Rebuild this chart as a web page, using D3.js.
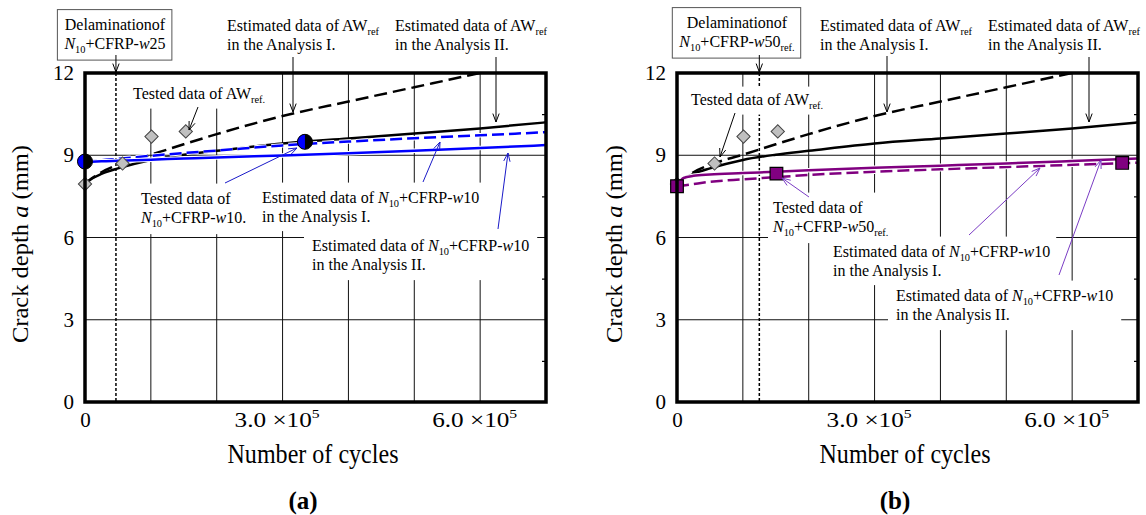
<!DOCTYPE html>
<html>
<head>
<meta charset="utf-8">
<script src="https://cdn.jsdelivr.net/npm/d3@7"></script>
<style>
  body { margin: 0; background: #fff; }
  svg { font-family: "Liberation Serif", "Times New Roman", serif; }
  text { white-space: pre; }
</style>
</head>
<body>
<div id="chart"></div>
<script>
// ---- data ----
const cycles = [0, 10000, 25000, 50000, 100000, 150000, 200000, 300000, 400000, 500000, 600000, 700000];

// AWref estimates (same curves in both panels)
const awRefAnalysisI  = [7.95, 8.15, 8.38, 8.65, 9.02, 9.40, 9.77, 10.43, 10.96, 11.48, 12.0, null];
const awRefAnalysisII = [7.95, 8.14, 8.32, 8.52, 8.83, 9.02, 9.16, 9.43, 9.61, 9.79, 9.98, 10.2];

// (a) N10+CFRP-w10 estimates
const w10AnalysisI  = [8.75, 8.78, 8.82, 8.87, 8.98, 9.08, 9.17, 9.36, 9.50, 9.62, 9.73, 9.84];
const w10AnalysisII = [8.75, 8.76, 8.78, 8.80, 8.84, 8.88, 8.92, 8.99, 9.07, 9.16, 9.26, 9.37];

// (b) N10+CFRP-w50ref estimates
const w50AnalysisI  = [7.87, 7.90, 7.95, 8.03, 8.12, 8.20, 8.28, 8.40, 8.49, 8.57, 8.65, 8.73];
const w50AnalysisII = [7.87, 8.17, 8.25, 8.30, 8.35, 8.40, 8.45, 8.54, 8.62, 8.70, 8.79, 8.88];

// tested data
const awRefTestCycles = [0, 57000, 101000, 153000];
const awRefTestDepth  = [7.95, 8.70, 9.68, 9.87];
const w10TestCycles = [0, 334000];
const w10TestDepth  = [8.77, 9.49];
const w50TestCycles = [0, 151000, 676000];
const w50TestDepth  = [7.87, 8.33, 8.72];

// delamination cycles
const delamA = 47000;
const delamB = 125000;

// ticks
const yTicks = [0, 3, 6, 9, 12];
const yMinor = [1.5, 4.5, 7.5, 10.5];
const xTicks = [0, 300000, 600000];
const xGrid = [100000, 200000, 300000, 400000, 500000, 600000];
const xTickLabels = { 0: ["0"], 300000: ["3.0", "5"], 600000: ["6.0", "5"] };

// ---- setup ----
const svg = d3.select("#chart").append("svg")
  .attr("width", 1146)
  .attr("height", 515);

const BLUE = "#0000ff", BLUE_ARROW = "#1a1ac8";
const PURPLE = "#800080", PURPLE_ARROW = "#7a3cc4";
const FS = 16;

// text line with italic / subscript parts
function richLine(g, x, y, parts, anchor) {
  const t = g.append("text")
    .attr("x", x)
    .attr("y", y + FS * 0.35)
    .attr("font-size", FS)
    .attr("text-anchor", anchor || "start");
  let down = false;
  parts.forEach(([s, st]) => {
    const sp = t.append("tspan").text(s);
    if (st.includes("i")) sp.attr("font-style", "italic");
    if (st.includes("s")) {
      sp.attr("font-size", FS * 0.65);
      if (!down) { sp.attr("dy", 4); down = true; }
    } else if (down) {
      sp.attr("dy", -4);
      down = false;
    }
  });
  return t;
}

function arrow(g, [x1, y1, x2, y2], color, w) {
  g.append("line")
    .attr("x1", x1).attr("y1", y1).attr("x2", x2).attr("y2", y2)
    .attr("stroke", color).attr("stroke-width", w);
  const a = Math.atan2(y2 - y1, x2 - x1), L = 9, s = 0.36;
  g.append("path")
    .attr("d", `M${x2 - L * Math.cos(a - s)},${y2 - L * Math.sin(a - s)}L${x2},${y2}L${x2 - L * Math.cos(a + s)},${y2 - L * Math.sin(a + s)}`)
    .attr("fill", "none").attr("stroke", color).attr("stroke-width", w);
}

function annotate(g, a) {
  const grp = g.append("g");
  const bg = grp.append("rect").attr("fill", "#fff");
  const texts = a.lines.map((parts, i) => richLine(grp, a.x, a.y + i * 19.5, parts, a.anchor));
  const boxes = texts.map(t => t.node().getBBox());
  const x0 = d3.min(boxes, b => b.x), x1 = d3.max(boxes, b => b.x + b.width);
  const y0 = d3.min(boxes, b => b.y), y1 = d3.max(boxes, b => b.y + b.height);
  const p = a.pad || [6, 4, 4];
  bg.attr("x", x0 - p[0]).attr("y", y0 - p[1])
    .attr("width", x1 - x0 + 2 * p[0]).attr("height", y1 - y0 + p[1] + p[2]);
  if (a.border) bg.attr("stroke", "#555").attr("stroke-width", 1);
}

const N10 = [["N", "i"], ["10", "s"], ["+CFRP-", ""], ["w", "i"]];
const awRefLine = [["Estimated data of AW", ""], ["ref", "s"]];

function drawPanel(cfg, idx) {
  const top = 73, bottom = 402;
  const x = d3.scaleLinear().domain([0, 700000]).range([cfg.left, cfg.right]);
  const y = d3.scaleLinear().domain([0, 12]).range([bottom, top]);
  const g = svg.append("g");

  const clipId = "clip" + idx;
  svg.append("clipPath").attr("id", clipId)
    .append("rect")
    .attr("x", cfg.left).attr("y", top)
    .attr("width", cfg.right - cfg.left).attr("height", bottom - top);

  // grid
  g.selectAll(".vg").data(xGrid).enter().append("line")
    .attr("x1", d => x(d)).attr("x2", d => x(d))
    .attr("y1", top).attr("y2", bottom)
    .attr("stroke", "#111").attr("stroke-width", 1);
  g.selectAll(".hg").data([3, 6, 9]).enter().append("line")
    .attr("x1", cfg.left).attr("x2", cfg.right)
    .attr("y1", d => y(d)).attr("y2", d => y(d))
    .attr("stroke", "#111").attr("stroke-width", 1);

  // delamination line
  g.append("line")
    .attr("x1", x(cfg.delam)).attr("x2", x(cfg.delam))
    .attr("y1", top).attr("y2", bottom)
    .attr("stroke", "#000").attr("stroke-width", 1.5)
    .attr("stroke-dasharray", "3,2");

  // annotation text with white backgrounds
  cfg.notes.forEach(a => annotate(g, a));

  // curves
  const line = d3.line()
    .defined(d => d[1] != null)
    .x(d => x(d[0])).y(d => y(d[1]))
    .curve(d3.curveMonotoneX);
  const cg = g.append("g").attr("clip-path", `url(#${clipId})`);
  cfg.curves.forEach(c => {
    const pts = cycles.map((cy, i) => [cy, c.values[i]]);
    if (c.casing) {
      cg.append("path").attr("d", line(pts))
        .attr("fill", "none").attr("stroke", "#fff").attr("stroke-width", c.width + 2)
        .attr("stroke-dasharray", c.dash || null);
    }
    cg.append("path").attr("d", line(pts))
      .attr("fill", "none").attr("stroke", c.color).attr("stroke-width", c.width)
      .attr("stroke-dasharray", c.dash || null);
  });

  // tested AWref diamonds
  const diamond = d3.symbol().type(d3.symbolSquare).size(88);
  g.selectAll(".dia").data(awRefTestCycles).enter().append("path")
    .attr("d", diamond)
    .attr("transform", (d, i) => `translate(${x(d)},${y(awRefTestDepth[i])}) rotate(45)`)
    .attr("fill", "#c0c0c0").attr("stroke", "#444").attr("stroke-width", 1);

  cfg.marks(g, x, y);

  // arrows
  cfg.arrows.forEach(a => arrow(g, a.p, a.color, a.w));
  arrow(g, [x(cfg.delam), 55, x(cfg.delam), top - 1], "#000", 1);

  // right side minor ticks (inward)
  g.append("g")
    .attr("transform", `translate(${cfg.right},0)`)
    .call(d3.axisLeft(y).tickValues(yMinor).tickSize(4).tickFormat(""))
    .call(s => s.select(".domain").remove())
    .selectAll("line").attr("stroke-width", 1.2);

  // frame
  g.append("rect")
    .attr("x", cfg.left).attr("y", top)
    .attr("width", cfg.right - cfg.left).attr("height", bottom - top)
    .attr("fill", "none").attr("stroke", "#000").attr("stroke-width", 3.5);

  // y axis labels
  const ya = g.append("g")
    .attr("transform", `translate(${cfg.left},0)`)
    .call(d3.axisLeft(y).tickValues(yTicks).tickSize(0).tickPadding(11));
  ya.select(".domain").remove();
  ya.selectAll("text")
    .attr("font-family", "Liberation Serif").attr("font-size", 21).attr("fill", "#000");

  // x axis labels
  const xa = g.append("g")
    .attr("transform", `translate(0,${bottom})`)
    .call(d3.axisBottom(x).tickValues(xTicks).tickSize(0));
  xa.select(".domain").remove();
  xa.selectAll("text")
    .attr("font-family", "Liberation Serif").attr("font-size", 21).attr("fill", "#000")
    .attr("y", 25).attr("dy", null)
    .each(function (d) {
      const t = d3.select(this).text("");
      const lab = xTickLabels[d];
      if (lab.length === 1) { t.text(lab[0]); return; }
      t.attr("textLength", 85).attr("lengthAdjust", "spacingAndGlyphs")
        .attr("dx", -6);
      t.append("tspan").text(lab[0] + " \u00d710");
      t.append("tspan").text(lab[1]).attr("font-size", 13).attr("dy", -9);
    });

  // axis titles
  const yl = g.append("text")
    .attr("transform", `translate(${cfg.yTitleX},244) rotate(-90)`)
    .attr("text-anchor", "middle")
    .attr("font-size", 23)
    .attr("textLength", 198).attr("lengthAdjust", "spacingAndGlyphs");
  yl.append("tspan").text("Crack depth ");
  yl.append("tspan").text("a").attr("font-style", "italic");
  yl.append("tspan").text(" (mm)");

  g.append("text")
    .attr("x", cfg.xTitleX).attr("y", 463)
    .attr("text-anchor", "middle")
    .attr("font-size", 27)
    .attr("textLength", 171).attr("lengthAdjust", "spacingAndGlyphs")
    .text("Number of cycles");

  g.append("text")
    .attr("x", cfg.capX).attr("y", 509)
    .attr("text-anchor", "middle")
    .attr("font-size", 25).attr("font-weight", "bold")
    .text(cfg.caption);
}

// ---- panel (a) ----
drawPanel({
  left: 85, right: 546, delam: delamA,
  yTitleX: 28, xTitleX: 313, capX: 303, caption: "(a)",
  curves: [
    { values: awRefAnalysisI, color: "#000", width: 2.5, dash: "13,6" },
    { values: awRefAnalysisII, color: "#000", width: 2.5 },
    { values: w10AnalysisI, color: BLUE, width: 2.5, dash: "12,5", casing: true },
    { values: w10AnalysisII, color: BLUE, width: 2.5, casing: true }
  ],
  marks: (g, x, y) => {
    const half = d3.arc()({ innerRadius: 0, outerRadius: 7.5, startAngle: Math.PI, endAngle: 2 * Math.PI });
    w10TestCycles.forEach((c, i) => {
      const m = g.append("g").attr("transform", `translate(${x(c)},${y(w10TestDepth[i])})`);
      m.append("circle").attr("r", 7.5).attr("fill", "#000");
      m.append("path").attr("d", half).attr("fill", BLUE);
      m.append("circle").attr("r", 7.5).attr("fill", "none").attr("stroke", "#000").attr("stroke-width", 1);
    });
  },
  notes: [
    { x: 115, y: 24, anchor: "middle", border: true, pad: [6, 6, 5],
      lines: [[["Delaminationof", ""]], [...N10, ["25", ""]]] },
    { x: 227, y: 25, lines: [awRefLine, [["in the Analysis I.", ""]]] },
    { x: 395, y: 25, lines: [awRefLine, [["in the Analysis II.", ""]]] },
    { x: 133, y: 93, pad: [4, 12, 4], lines: [[["Tested data of AW", ""], ["ref", "s"], [".", "s"]]] },
    { x: 141, y: 198, pad: [4, 6, 5], lines: [[["Tested data of", ""]], [...N10, ["10.", ""]]] },
    { x: 262, y: 197, pad: [6, 6, 5], lines: [[["Estimated data of ", ""], ...N10, ["10", ""]], [["in the Analysis I.", ""]]] },
    { x: 312, y: 245, pad: [8, 6, 6], lines: [[["Estimated data of ", ""], ...N10, ["10", ""]], [["in the Analysis II.", ""]]] }
  ],
  arrows: [
    { p: [293, 57, 293, 112], color: "#000", w: 1 },
    { p: [496, 57, 496, 122], color: "#000", w: 1 },
    { p: [198, 107, 189, 130], color: "#000", w: 1 },
    { p: [225, 183, 297, 148], color: BLUE_ARROW, w: 1 },
    { p: [423, 182, 440, 142], color: BLUE_ARROW, w: 1 },
    { p: [498, 229, 508, 153], color: BLUE_ARROW, w: 1 }
  ]
}, 0);

// ---- panel (b) ----
drawPanel({
  left: 677, right: 1138, delam: delamB,
  yTitleX: 622, xTitleX: 905, capX: 895, caption: "(b)",
  curves: [
    { values: awRefAnalysisI, color: "#000", width: 2.5, dash: "13,6" },
    { values: awRefAnalysisII, color: "#000", width: 2.5 },
    { values: w50AnalysisI, color: PURPLE, width: 2.5, dash: "12,5", casing: true },
    { values: w50AnalysisII, color: PURPLE, width: 2.5, casing: true }
  ],
  marks: (g, x, y) => {
    const sq = d3.symbol().type(d3.symbolSquare).size(160);
    g.selectAll(".sq").data(w50TestCycles).enter().append("path")
      .attr("d", sq)
      .attr("transform", (d, i) => `translate(${x(d)},${y(w50TestDepth[i])})`)
      .attr("fill", PURPLE).attr("stroke", "#000").attr("stroke-width", 1.2);
  },
  notes: [
    { x: 737, y: 22, anchor: "middle", border: true, pad: [6, 6, 5],
      lines: [[["Delaminationof", ""]], [...N10, ["50", ""], ["ref", "s"], [".", "s"]]] },
    { x: 820, y: 25, lines: [awRefLine, [["in the Analysis I.", ""]]] },
    { x: 988, y: 25, lines: [awRefLine, [["in the Analysis II.", ""]]] },
    { x: 691, y: 99, pad: [4, 4, 4], lines: [[["Tested data of AW", ""], ["ref", "s"], [".", "s"]]] },
    { x: 773, y: 207, pad: [4, 6, 5], lines: [[["Tested data of", ""]], [...N10, ["50", ""], ["ref", "s"], [".", "s"]]] },
    { x: 833, y: 251, pad: [6, 6, 5], lines: [[["Estimated data of ", ""], ...N10, ["10", ""]], [["in the Analysis I.", ""]]] },
    { x: 896, y: 295, pad: [8, 6, 6], lines: [[["Estimated data of ", ""], ...N10, ["10", ""]], [["in the Analysis II.", ""]]] }
  ],
  arrows: [
    { p: [887, 56, 887, 112], color: "#000", w: 1 },
    { p: [1089, 57, 1089, 122], color: "#000", w: 1 },
    { p: [735, 113, 720, 157], color: "#000", w: 1 },
    { p: [809, 197, 782, 178], color: PURPLE_ARROW, w: 1 },
    { p: [969, 235, 1040, 168], color: PURPLE_ARROW, w: 1 },
    { p: [1059, 275, 1101, 160], color: PURPLE_ARROW, w: 1 }
  ]
}, 1);
</script>
</body>
</html>
